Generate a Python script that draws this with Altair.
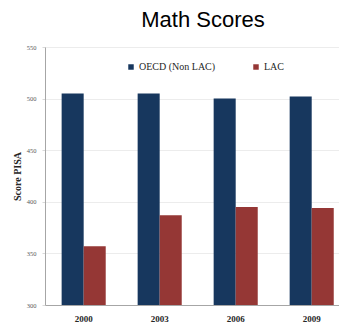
import altair as alt
import pandas as pd

# PISA mathematics scores by assessment year
years = ["2000", "2003", "2006", "2009"]
oecd_scores = [505, 505, 500, 502]
lac_scores = [357, 387, 395, 394]
series_names = ["OECD (Non LAC)", "LAC"]
series_colors = ["#17375E", "#953735"]

rows = []
for yr, o, l in zip(years, oecd_scores, lac_scores):
    rows.append({"year": yr, "series": series_names[0], "score": o})
    rows.append({"year": yr, "series": series_names[1], "score": l})
df = pd.DataFrame(rows)

serif = "Liberation Serif"

bars = alt.Chart(df).mark_bar(clip=True).encode(
    x=alt.X(
        "year:N",
        sort=years,
        title=None,
        scale=alt.Scale(paddingInner=0.42, paddingOuter=0.144, align=0.76),
        axis=alt.Axis(
            labelAngle=0,
            labelFont=serif,
            labelFontSize=9,
            labelFontWeight="bold",
            labelColor="#262626",
            labelPadding=9,
            labelBaseline="top",
            ticks=False,
            domainColor="#a6a6a6",
            domainWidth=1,
            grid=False,
        ),
    ),
    xOffset=alt.XOffset("series:N", sort=series_names),
    y=alt.Y(
        "score:Q",
        title="Score PISA",
        scale=alt.Scale(domain=[300, 550], nice=False, zero=False),
        axis=alt.Axis(
            values=[300, 350, 400, 450, 500, 550],
            labelFont=serif,
            labelFontSize=6.5,
            labelColor="#595959",
            labelPadding=6,
            tickSize=3,
            tickColor="#d9d9d9",
            domainColor="#a6a6a6",
            gridColor="#ececec",
            titleFont=serif,
            titleFontSize=10,
            titleFontWeight="bold",
            titleColor="#262626",
            titlePadding=4,
        ),
    ),
    color=alt.Color(
        "series:N",
        sort=series_names,
        scale=alt.Scale(domain=series_names, range=series_colors),
        legend=alt.Legend(
            title=None,
            orient="none",
            direction="horizontal",
            legendX=81,
            legendY=15,
            symbolType="square",
            symbolSize=30,
            symbolStrokeWidth=0,
            labelFont=serif,
            labelFontSize=10,
            labelColor="#262626",
            labelOffset=3,
            columnPadding=35,
        ),
    ),
)

chart = bars.properties(
    width=294,
    height=258,
    title=alt.TitleParams(
        text="Math Scores",
        font="Liberation Sans",
        fontSize=22,
        fontWeight="normal",
        color="#000000",
        anchor="middle",
        frame="group",
        dx=11,
        offset=12,
    ),
    autosize=alt.AutoSizeParams(type="none"),
    padding={"left": 45, "top": 47, "right": 0, "bottom": 18},
).configure_view(stroke=None).configure(background="white")

chart.save("out.html", embed_options={"renderer": "svg", "actions": False})
